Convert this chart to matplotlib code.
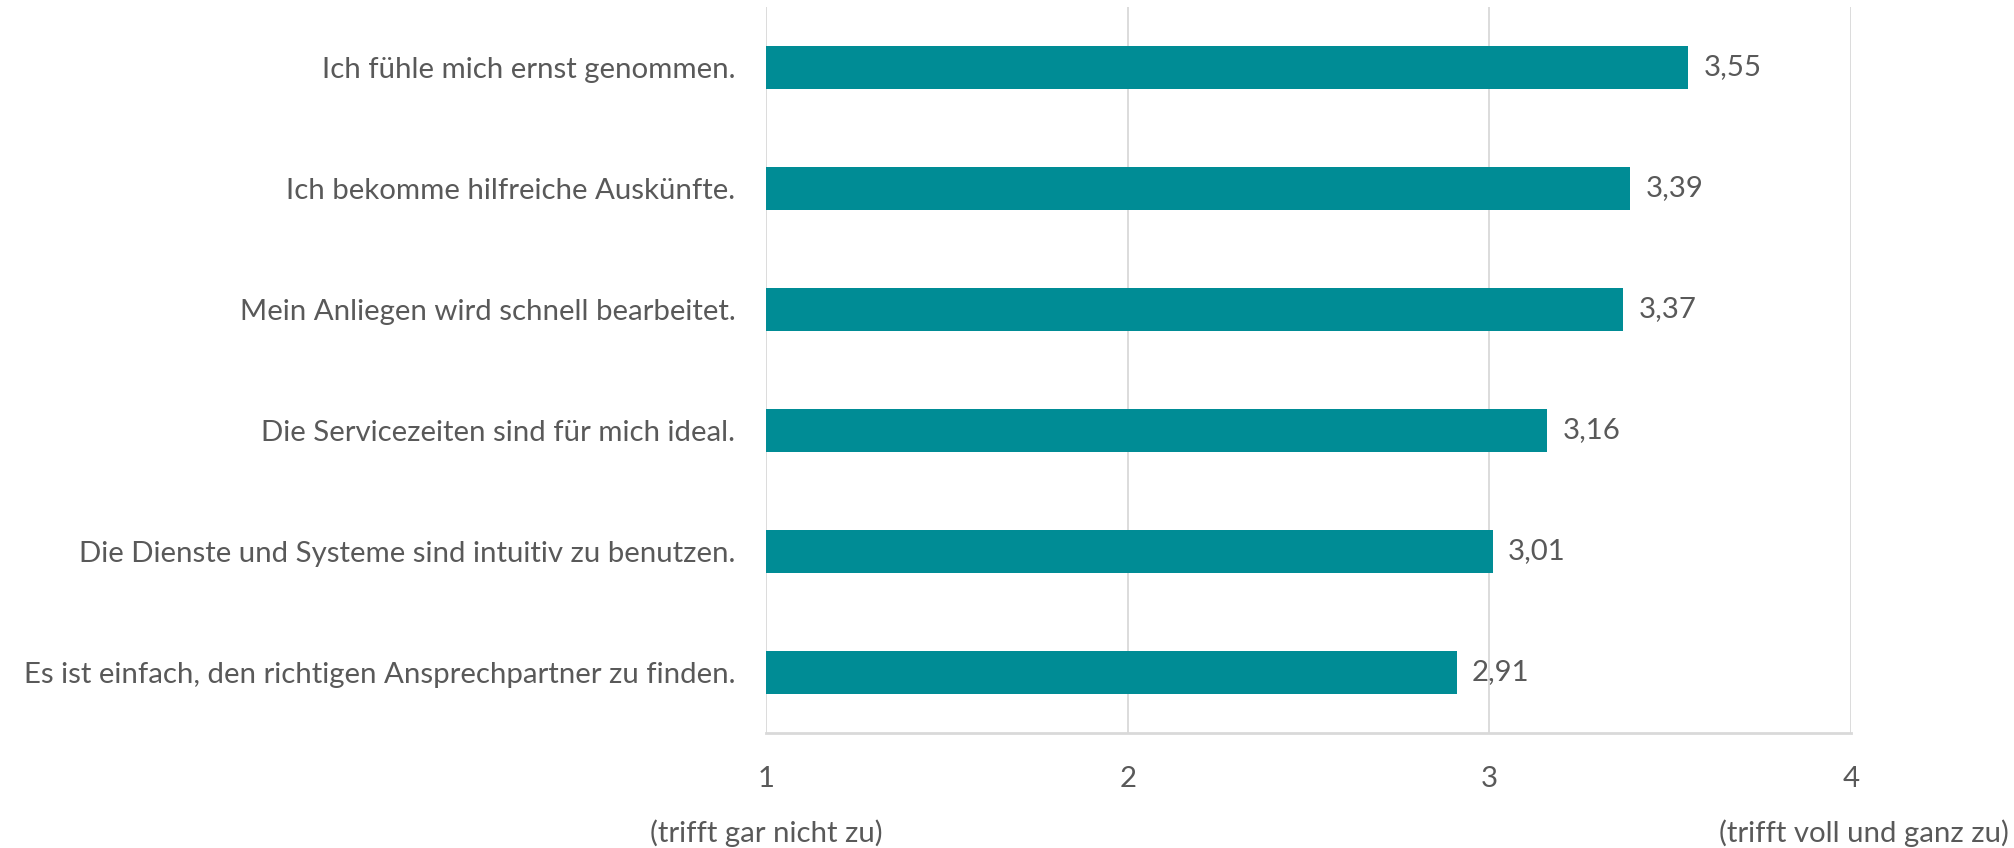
import matplotlib
matplotlib.use("Agg")
import matplotlib.pyplot as plt
import matplotlib.transforms as mtransforms

categories = [
    "Ich fühle mich ernst genommen.",
    "Ich bekomme hilfreiche Auskünfte.",
    "Mein Anliegen wird schnell bearbeitet.",
    "Die Servicezeiten sind für mich ideal.",
    "Die Dienste und Systeme sind intuitiv zu benutzen.",
    "Es ist einfach, den richtigen Ansprechpartner zu finden.",
]
values = [3.55, 3.39, 3.37, 3.16, 3.01, 2.91]
xticks = [1, 2, 3, 4]
scale_low = "(trifft gar nicht zu)"
scale_high = "(trifft voll und ganz zu)"

BAR = "#008C95"
TXT = "#595959"
GRID = "#D9D9D9"
FS = 21.2

plt.rcParams['font.family'] = ['Lato', 'DejaVu Sans']

W, H = 2015, 848
fig = plt.figure(figsize=(W / 100, H / 100), dpi=100)
ax = fig.add_axes([766 / W, 1 - 733 / H, (1851 - 766) / W, (733 - 7) / H])

ypos = list(range(len(categories)))
ax.barh(ypos, [v - 1 for v in values], left=1, height=0.35, color=BAR, zorder=3)
ax.set_ylim(len(categories) - 0.5, -0.5)
ax.set_xlim(1, 4)
ax.set_xticks(xticks)
ax.set_xticklabels([str(t) for t in xticks])
ax.set_yticks(ypos)
ax.set_yticklabels(categories)

ax.tick_params(axis='y', length=0, pad=22, labelsize=FS, labelcolor=TXT)
ax.tick_params(axis='x', length=0, pad=24, labelsize=FS, labelcolor=TXT)

for s in ['top', 'right', 'left']:
    ax.spines[s].set_visible(False)
ax.spines['bottom'].set_color(GRID)
ax.spines['bottom'].set_linewidth(2)
ax.grid(axis='x', color=GRID, linewidth=1.3, zorder=0)
ax.set_axisbelow(True)

for y, v in zip(ypos, values):
    ax.annotate(f"{v:.2f}".replace('.', ','), (v, y), xytext=(11, 0),
                textcoords='offset points', ha='left', va='center',
                fontsize=FS, color=TXT)

trans = mtransforms.blended_transform_factory(ax.transData, fig.transFigure)
fig.text(1, 1 - 833 / H, scale_low, transform=trans, ha='center', va='center',
         fontsize=FS, color=TXT)
fig.text(4.035, 1 - 833 / H, scale_high, transform=trans, ha='center', va='center',
         fontsize=FS, color=TXT)

fig.savefig("out.png", dpi=100, facecolor='white')
